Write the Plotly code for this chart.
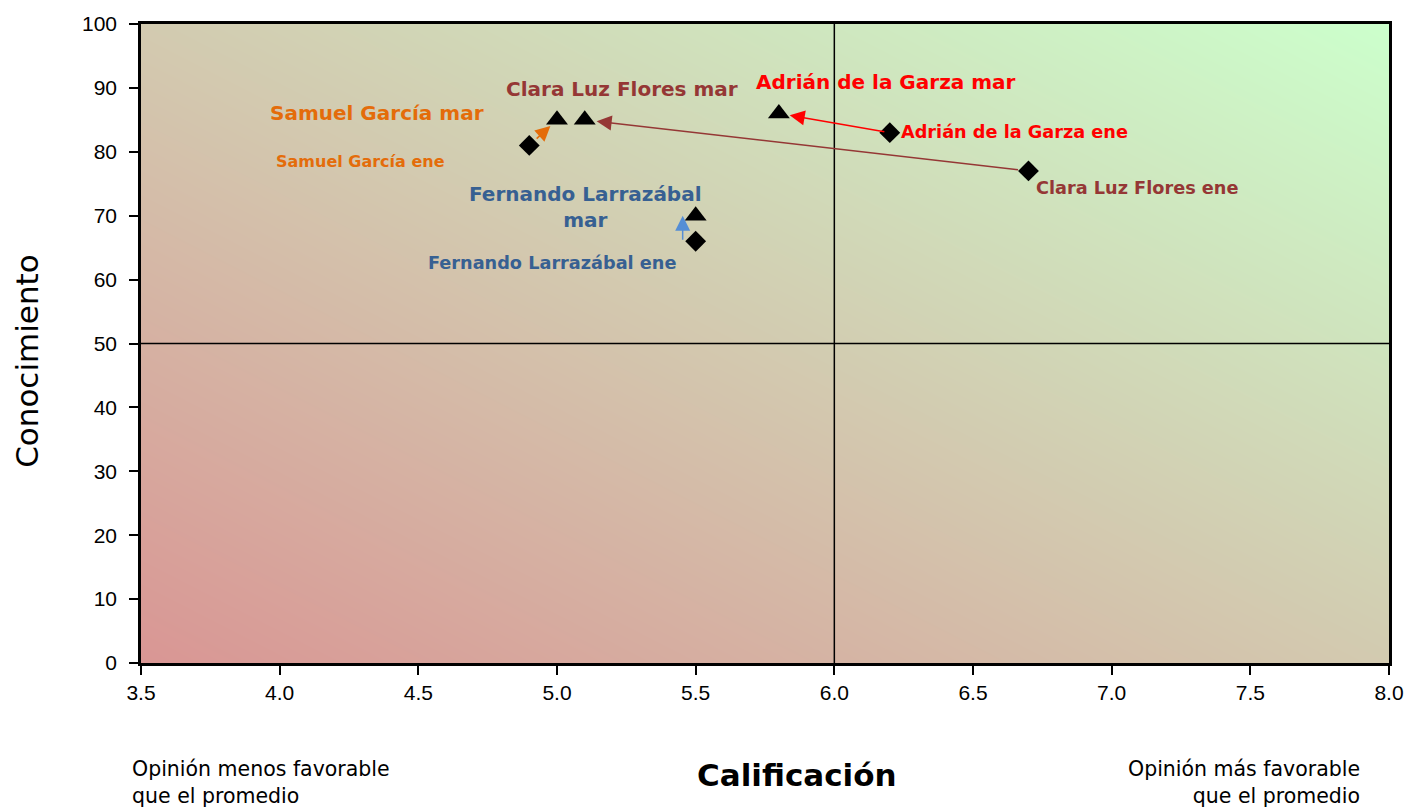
import plotly.graph_objects as go

# ---- data ----
candidates = ["Samuel García", "Clara Luz Flores", "Adrián de la Garza", "Fernando Larrazábal"]
calif_ene = [4.9, 6.7, 6.2, 5.5]
conoc_ene = [81, 77, 83, 66]
calif_mar = [5.0, 5.1, 5.8, 5.5]
conoc_mar = [85, 85, 86, 70]
colors = ["#E46C0A", "#953735", "#FF0000", "#376092"]
arrow_colors = ["#E46C0A", "#953735", "#FF0000", "#558ED5"]

x_ticks = [3.5, 4.0, 4.5, 5.0, 5.5, 6.0, 6.5, 7.0, 7.5, 8.0]
y_ticks = [0, 10, 20, 30, 40, 50, 60, 70, 80, 90, 100]

FONT = "DejaVu Sans"
TICKFONT = "Liberation Sans"

fig = go.Figure()

# gradient background (diagonal, red bottom-left -> green top-right)
fig.add_trace(go.Heatmap(
    x=[3.5, 8.0], y=[0, 100], z=[[0, 0.5], [0.5, 1]],
    zsmooth="best", colorscale=[[0, "#D99694"], [1, "#CCFFCC"]],
    showscale=False, hoverinfo="skip", zmin=0, zmax=1,
))

# quadrant lines
fig.add_shape(type="line", x0=6.0, x1=6.0, y0=0, y1=100, xref="x", yref="y",
              line=dict(color="black", width=1.5))
fig.add_shape(type="line", x0=3.5, x1=8.0, y0=50, y1=50, xref="x", yref="y",
              line=dict(color="black", width=1.5))

fig.add_trace(go.Scatter(x=calif_ene, y=conoc_ene, mode="markers", name="ene",
                         marker=dict(symbol="diamond", size=16, color="black"),
                         showlegend=False, cliponaxis=False))
fig.add_trace(go.Scatter(x=calif_mar, y=conoc_mar, mode="markers", name="mar",
                         marker=dict(symbol="triangle-up", size=19, color="black"),
                         showlegend=False, cliponaxis=False))

# arrows from ene to mar
standoffs = [9, 12, 11, 0]
startstandoffs = [8, 9, 4, 0]
xshifts = [0, 0, 0, -13]
for i in range(len(candidates)):
    fig.add_annotation(
        x=calif_mar[i], y=conoc_mar[i], ax=calif_ene[i], ay=conoc_ene[i],
        xref="x", yref="y", axref="x", ayref="y", text="", showarrow=True,
        arrowhead=2, arrowsize=2.0, arrowwidth=1.5, arrowcolor=arrow_colors[i],
        standoff=standoffs[i], startstandoff=startstandoffs[i], xshift=xshifts[i],
    )

# labels
labels = [
    ("Samuel García mar", 4.352, 86.0, "center", 20, colors[0]),
    ("Samuel García ene", 4.291, 78.5, "center", 16, colors[0]),
    ("Clara Luz Flores mar", 5.236, 89.9, "center", 20, colors[1]),
    ("Clara Luz Flores ene", 6.721, 74.4, "left", 17.7, colors[1]),
    ("Adrián de la Garza mar", 6.185, 91.0, "center", 20, colors[2]),
    ("Adrián de la Garza ene", 6.232, 83.1, "left", 17.7, colors[2]),
    ("Fernando Larrazábal<br>mar", 5.103, 71.4, "center", 20, colors[3]),
    ("Fernando Larrazábal ene", 4.981, 62.6, "center", 17.7, colors[3]),
]
for t, x, y, xa, s, c in labels:
    fig.add_annotation(x=x, y=y, xref="x", yref="y", text="<b>" + t + "</b>",
                       showarrow=False, xanchor=xa, yanchor="middle",
                       font=dict(family=FONT, size=s, color=c))

# axis titles and notes
fig.add_annotation(x=-0.091, y=0.4735, xref="paper", yref="paper", text="Conocimiento",
                   textangle=-90, showarrow=False, xanchor="center", yanchor="middle",
                   font=dict(family=FONT, size=31, color="black"))
fig.add_annotation(x=0.526, y=-0.1745, xref="paper", yref="paper", text="<b>Calificación</b>",
                   showarrow=False, xanchor="center", yanchor="middle",
                   font=dict(family=FONT, size=31, color="black"))
fig.add_annotation(x=-0.0088, y=-0.187, xref="paper", yref="paper", xanchor="left",
                   yanchor="middle",
                   text="Opinión menos favorable<br>que el promedio", align="left",
                   showarrow=False, font=dict(family=FONT, size=20.5, color="black"))
fig.add_annotation(x=0.978, y=-0.187, xref="paper", yref="paper", xanchor="right",
                   yanchor="middle",
                   text="Opinión más favorable<br>que el promedio", align="right",
                   showarrow=False, font=dict(family=FONT, size=20.5, color="black"))

fig.update_layout(
    width=1416, height=810,
    margin=dict(l=141, r=23, t=21, b=147),
    plot_bgcolor="white", paper_bgcolor="white",
    showlegend=False,
    xaxis=dict(range=[3.5, 8.0], tickvals=x_ticks, ticktext=[f"{v:.1f}" for v in x_ticks],
               showgrid=False, zeroline=False, showline=True, mirror=True,
               linecolor="black", linewidth=2.5, ticks="outside", ticklen=9,
               tickwidth=2, tickcolor="black",
               tickfont=dict(family=TICKFONT, size=21, color="black")),
    yaxis=dict(range=[0, 100], tickvals=y_ticks, showgrid=False, zeroline=False,
               showline=True, mirror=True, linecolor="black", linewidth=2.5,
               ticks="outside", ticklen=9, tickwidth=2, tickcolor="black",
               ticklabelstandoff=8,
               tickfont=dict(family=TICKFONT, size=21, color="black")),
)

fig.write_html("out.html", config={"displayModeBar": False},
               post_script="document.body.style.margin='0';")
